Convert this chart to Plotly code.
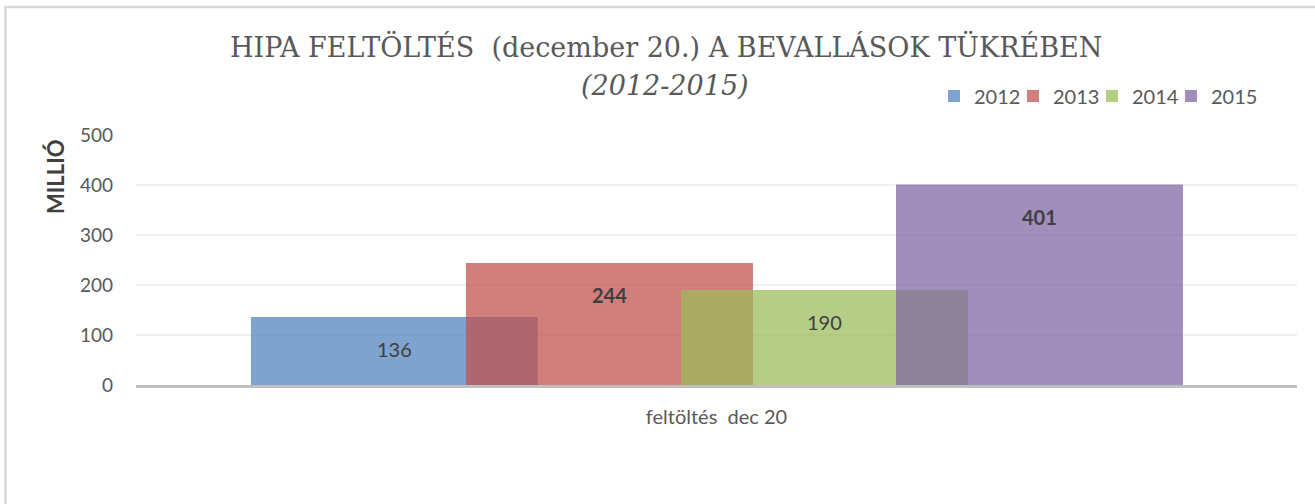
import plotly.graph_objects as go

categories = ["feltöltés\u00a0\u00a0dec 20"]
years = ["2012", "2013", "2014", "2015"]
values = [136, 244, 190, 401]
bold_labels = [False, True, False, True]

colors = ["rgba(79,129,189,0.73)", "rgba(192,80,77,0.73)",
          "rgba(155,187,89,0.73)", "rgba(128,100,162,0.73)"]
bar_width = 0.2472
offsets = [-0.401, -0.2158, -0.0306, 0.1546]

W, H = 1315, 504
plot_left, plot_right, plot_top, plot_bottom = 136, 1297, 135, 385
ml = plot_left
mt = plot_top
pw = plot_right - plot_left
ph = plot_bottom - plot_top
mr = W - ml - pw
mb = H - mt - ph

def px_x(p):
    return (p - plot_left) / pw

def px_y(p):
    return (plot_bottom - p) / ph

legend_names = ["legend", "legend2", "legend3", "legend4"]
legend_x_px = [934, 1013, 1092, 1171]

fig = go.Figure()
for yr, v, c, off, lg in zip(years, values, colors, offsets, legend_names):
    fig.add_trace(go.Bar(
        x=categories, y=[v], name=yr, legend=lg,
        marker=dict(color=c, line=dict(width=0)),
        width=bar_width, offset=off, hoverinfo="y+name",
    ))

annotations = []
for v, off, b in zip(values, offsets, bold_labels):
    txt = f"<b>{v}</b>" if b else str(v)
    annotations.append(dict(
        x=off + bar_width / 2, y=v, xref="x", yref="y", text=txt,
        showarrow=False, yshift=-32, yanchor="middle",
        font=dict(family="Lato", size=20, color="#404040"),
    ))

annotations.append(dict(
    x=px_x(665.5), y=px_y(47), xref="paper", yref="paper",
    text="HIPA FELTÖLTÉS\u00a0 (december 20.) A BEVALLÁSOK TÜKRÉBEN",
    showarrow=False, xanchor="center", yanchor="middle",
    font=dict(family="DejaVu Serif", size=27, color="#595959"),
))
annotations.append(dict(
    x=px_x(665), y=px_y(85), xref="paper", yref="paper",
    text="<i>(2012-2015)</i>",
    showarrow=False, xanchor="center", yanchor="middle",
    font=dict(family="DejaVu Serif", size=27, color="#595959"),
))
annotations.append(dict(
    x=px_x(55), y=px_y(177), xref="paper", yref="paper",
    text="<b>MILLIÓ</b>", textangle=-90,
    showarrow=False, xanchor="center", yanchor="middle",
    font=dict(family="Lato", size=22, color="#404040"),
))

legend_style = dict(orientation="h", yanchor="middle", xanchor="left",
                    font=dict(family="Lato", size=20, color="#595959"),
                    itemwidth=30, bgcolor="rgba(0,0,0,0)")
legends = {}
for lg, lx in zip(legend_names, legend_x_px):
    legends[lg] = dict(legend_style, x=px_x(lx), y=px_y(96))

fig.update_layout(
    width=W, height=H,
    margin=dict(l=ml, r=mr, t=mt, b=mb, autoexpand=False),
    paper_bgcolor="white", plot_bgcolor="white",
    barmode="overlay",
    showlegend=True,
    xaxis=dict(range=[-0.5, 0.5], showline=True, linecolor="#bfbfbf",
               linewidth=2.5, showgrid=False, ticks="",
               tickfont=dict(family="Lato", size=20, color="#595959"),
               ticklabelstandoff=12),
    yaxis=dict(range=[0, 500], dtick=100, showgrid=True, gridcolor="#f0f0f0",
               gridwidth=1.5, zeroline=False, showline=False, ticks="",
               tickfont=dict(family="Lato", size=19, color="#595959"),
               ticklabelstandoff=22),
    annotations=annotations,
    shapes=[dict(type="path", xref="paper", yref="paper",
                 path=f"M {px_x(5.5)} {px_y(520)} L {px_x(5.5)} {px_y(7)} L {px_x(1330)} {px_y(7)}",
                 line=dict(color="#d9d9d9", width=2.5))],
    **legends,
)

fig.write_html("out.html", config={"displayModeBar": False},
               post_script="document.body.style.margin='0px';document.body.style.overflow='hidden';")
